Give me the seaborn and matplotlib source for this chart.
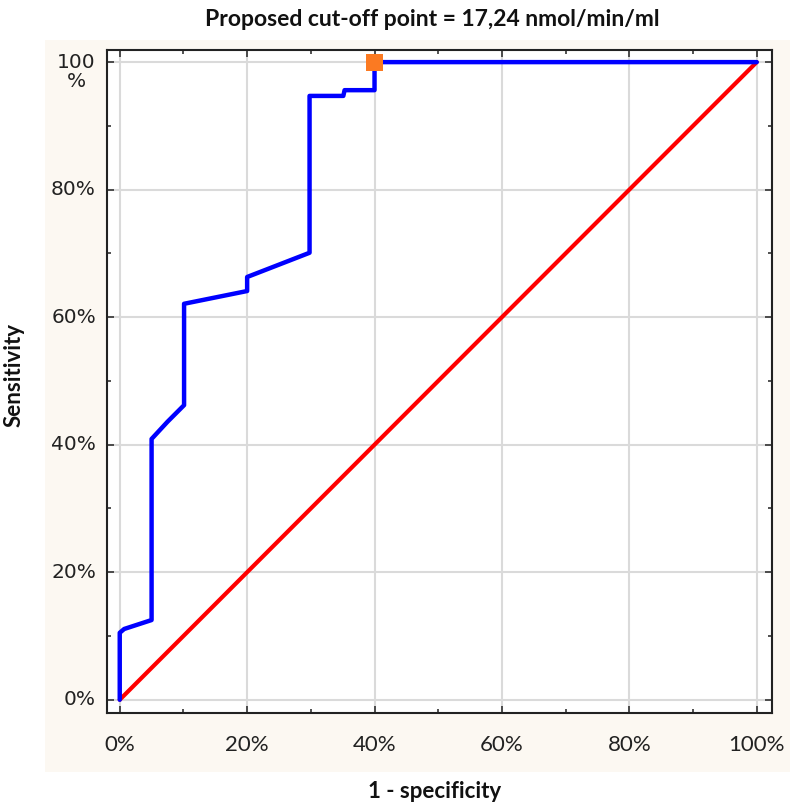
import matplotlib
matplotlib.use("Agg")
import matplotlib.pyplot as plt
import seaborn as sns
import pandas as pd
from matplotlib.patches import Rectangle
from matplotlib.ticker import MultipleLocator

# ROC curve values (percent)
fpr = [0, 0, 0.7, 5.0, 5.0, 7.5, 10.1, 10.1, 20.0, 20.0, 29.8, 29.8, 35.1, 35.3, 40.0, 40.0, 100]
tpr = [0, 10.5, 11.1, 12.5, 40.9, 43.6, 46.2, 62.1, 64.1, 66.3, 70.1, 94.7, 94.7, 95.6, 95.6, 100, 100]
ref_x = [0, 100]
ref_y = [0, 100]
cut_x = [40]
cut_y = [100]
tick_vals = [0, 20, 40, 60, 80, 100]
xtick_labels = ["0%", "20%", "40%", "60%", "80%", "100%"]
ytick_labels = ["0%", "20%", "40%", "60%", "80%", " \n100\n%"]
title = "Proposed cut-off point = 17,24 nmol/min/ml"

sns.set_style("white")
fig = plt.figure(figsize=(8.0, 8.06), dpi=100)
fig.patch.set_facecolor("white")
fig.patches.append(Rectangle((45 / 800, 1 - 772 / 806), (790 - 45) / 800, (772 - 40) / 806,
                             transform=fig.transFigure, facecolor="#fcf8f2", edgecolor="none", zorder=-10))
ax = fig.add_axes([107 / 800, 1 - 712.5 / 806, (772 - 107) / 800, (712.5 - 50) / 806])
ax.set_facecolor("white")
ax.set_zorder(1)

df_roc = pd.DataFrame({"x": fpr, "y": tpr})
df_ref = pd.DataFrame({"x": ref_x, "y": ref_y})
sns.lineplot(data=df_ref, x="x", y="y", sort=False, estimator=None, color="#ff0000", lw=3.0, ax=ax, zorder=3)
sns.lineplot(data=df_roc, x="x", y="y", sort=False, estimator=None, color="#0000ff", lw=3.2, ax=ax, zorder=4)
sns.scatterplot(x=cut_x, y=cut_y, marker="s", s=150, color="#fb7a22", edgecolor="none", ax=ax, zorder=5)

ax.set_xlim(-2.0, 102.4)
ax.set_ylim(-2.0, 101.9)
ax.set_xticks(tick_vals)
ax.set_yticks(tick_vals)
ax.xaxis.set_minor_locator(MultipleLocator(10))
ax.yaxis.set_minor_locator(MultipleLocator(10))
ax.set_xticklabels(xtick_labels, fontsize=16, family=["Lato", "DejaVu Sans"], color="#222222")
ax.set_yticklabels(ytick_labels, fontsize=14.5, family="DejaVu Sans", color="#222222", linespacing=1.05)
for lab in ax.get_yticklabels():
    lab.set_multialignment("center")
    lab.set_verticalalignment("center")
ax.grid(True, which="major", color="#dadada", lw=1.5, zorder=0)
ax.set_axisbelow(True)
ax.tick_params(axis="both", which="both", direction="in", top=True, right=True, bottom=True, left=True,
               color="#333333", width=1.2)
ax.tick_params(axis="both", which="major", length=5)
ax.tick_params(axis="both", which="minor", length=3)
ax.tick_params(axis="x", which="major", pad=16)
ax.tick_params(axis="y", which="major", pad=8)
for s in ax.spines.values():
    s.set_color("#222222")
    s.set_linewidth(1.5)
ax.set_xlabel("")
ax.set_ylabel("")

fig.text(432 / 800, 1 - 20 / 806, title, ha="center", va="center", fontsize=16.5, fontweight="bold",
         family=["Lato", "DejaVu Sans"], color="#111111")
fig.text(435 / 800, 1 - 792 / 806, "1 - specificity", ha="center", va="center", fontsize=16,
         fontweight="bold", family=["Lato", "DejaVu Sans"], color="#111111")
fig.text(14 / 800, 1 - 375 / 806, "Sensitivity", ha="center", va="center", rotation=90, fontsize=16,
         fontweight="bold", family=["Lato", "DejaVu Sans"], color="#111111")

fig.savefig("out.png", dpi=100, facecolor=fig.get_facecolor())
